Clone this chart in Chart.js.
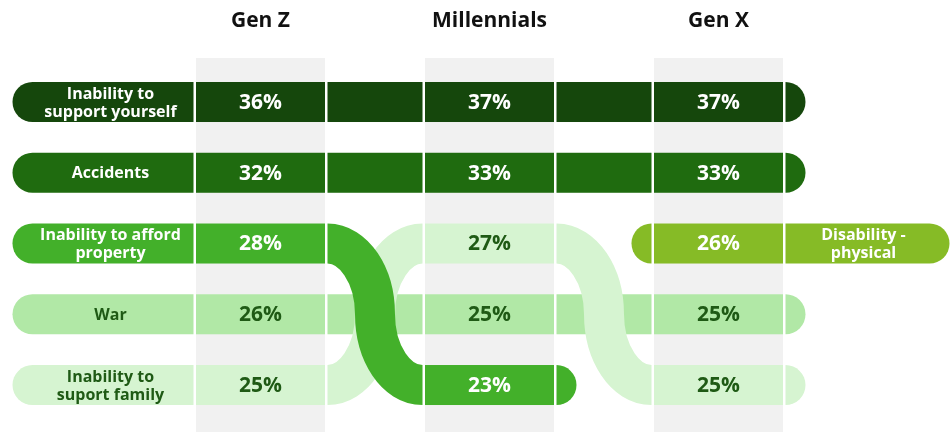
<!DOCTYPE html>
<html><head><meta charset="utf-8">
<script src="https://cdn.jsdelivr.net/npm/chart.js@4.4.1/dist/chart.umd.min.js"></script>
<style>html,body{margin:0;padding:0;background:#fff;}canvas{display:block}</style>
</head><body>
<canvas id="c" width="950" height="432"></canvas>
<script>
// ---- data ----
const generations = ['Gen Z', 'Millennials', 'Gen X'];
const concerns = ['Inability to support yourself', 'Accidents', 'Inability to afford property', 'War', 'Inability to suport family', 'Disability - physical'];
const concernLines = [['Inability to', 'support yourself'], ['Accidents'], ['Inability to afford', 'property'], ['War'], ['Inability to', 'suport family'], ['Disability -', 'physical']];
const genZValues = [36, 32, 28, 26, 25, null];
const millennialsValues = [37, 33, 23, 25, 27, null];
const genXValues = [37, 33, null, 25, 25, 26];

// ---- styles ----
const concernColors = ['#15470c', '#1f6b0f', '#43b02a', '#b1e8a6', '#d6f4d1', '#86bb26'];
const textColors = ['#ffffff', '#ffffff', '#ffffff', '#1f5a15', '#1f5a15', '#ffffff'];
const drawOrder = [0, 1, 3, 4, 5, 2];

const valuesByGen = [genZValues, millennialsValues, genXValues];
function ranksFor(vals) {
  const idx = vals.map((v, i) => i).filter(i => vals[i] != null);
  idx.sort((a, b) => (vals[b] - vals[a]) || (a - b));
  const r = vals.map(() => null);
  idx.forEach((i, k) => { r[i] = k + 1; });
  return r;
}
const ranksByGen = valuesByGen.map(ranksFor);

const HALF = 64.5, BAR = 40, GAP = 2.5, R = 20, K = 0.5523;
const FONT = '"Open Sans", "Noto Sans", sans-serif';

const bumpPlugin = {
  id: 'bump',
  beforeDatasetsDraw(chart) {
    const ctx = chart.ctx, xs = chart.scales.x, ys = chart.scales.y, area = chart.chartArea;
    ctx.save();
    // column backgrounds
    ctx.fillStyle = '#f1f1f1';
    generations.forEach((g, gi) => {
      const cx = xs.getPixelForValue(gi);
      ctx.fillRect(cx - HALF, area.top, HALF * 2, area.bottom - area.top);
    });
    // headers
    ctx.fillStyle = '#111';
    ctx.font = 'bold 21px ' + FONT;
    ctx.textAlign = 'center';
    ctx.textBaseline = 'middle';
    generations.forEach((g, gi) => ctx.fillText(g, xs.getPixelForValue(gi), 21));

    const drawLabel = (lines, x, y, color) => {
      ctx.fillStyle = color;
      ctx.font = 'bold 16px ' + FONT;
      ctx.textAlign = 'center';
      ctx.textBaseline = 'middle';
      const lh = 18;
      lines.forEach((t, k) => ctx.fillText(t, x, y + (k - (lines.length - 1) / 2) * lh + 1));
    };

    drawOrder.forEach(c => {
      const color = concernColors[c];
      const present = generations.map((g, gi) => gi).filter(gi => valuesByGen[gi][c] != null);
      const first = present[0], last = present[present.length - 1];
      const px = gi => xs.getPixelForValue(gi);
      const py = gi => ys.getPixelForValue(ranksByGen[gi][c]);
      ctx.fillStyle = color;
      // start
      const y0 = py(first), l0 = px(first) - HALF - GAP;
      if (first === 0) {
        ctx.beginPath();
        ctx.roundRect(l0 - 181, y0 - BAR / 2, 181, BAR, [R, 0, 0, R]);
        ctx.fill();
        drawLabel(concernLines[c], l0 - 83, y0, textColors[c]);
        ctx.fillStyle = color;
      } else {
        ctx.beginPath();
        ctx.moveTo(l0, y0 - BAR / 2);
        ctx.arc(l0, y0, R, -Math.PI / 2, Math.PI / 2, true);
        ctx.closePath();
        ctx.fill();
      }
      // cells and connectors
      present.forEach((gi, k) => {
        const cx = px(gi), cy = py(gi);
        ctx.fillStyle = color;
        ctx.fillRect(cx - HALF, cy - BAR / 2, HALF * 2, BAR);
        if (k < present.length - 1) {
          const gj = present[k + 1];
          const xa = cx + HALF + GAP, xb = px(gj) - HALF - GAP, yb = py(gj);
          if (Math.abs(yb - cy) < 0.5) {
            ctx.fillRect(xa, cy - BAR / 2, xb - xa, BAR);
          } else {
            const xm = (xa + xb) / 2, ym = (cy + yb) / 2;
            const rx = xm - xa, ry = ym - cy;
            ctx.strokeStyle = color;
            ctx.lineWidth = BAR;
            ctx.lineCap = 'butt';
            ctx.beginPath();
            ctx.moveTo(xa, cy);
            ctx.bezierCurveTo(xa + K * rx, cy, xm, ym - K * ry, xm, ym);
            ctx.bezierCurveTo(xm, ym + K * ry, xb - K * rx, yb, xb, yb);
            ctx.stroke();
          }
        }
      });
      // end
      const y1 = py(last), r1 = px(last) + HALF + GAP;
      ctx.fillStyle = color;
      if (first === last && last === generations.length - 1) {
        ctx.beginPath();
        ctx.roundRect(r1, y1 - BAR / 2, 164, BAR, [0, R, R, 0]);
        ctx.fill();
        drawLabel(concernLines[c], r1 + 78, y1, textColors[c]);
      } else {
        ctx.beginPath();
        ctx.moveTo(r1, y1 - BAR / 2);
        ctx.arc(r1, y1, R, -Math.PI / 2, Math.PI / 2, false);
        ctx.closePath();
        ctx.fill();
      }
      // values
      ctx.fillStyle = textColors[c];
      ctx.font = 'bold 21px ' + FONT;
      ctx.textAlign = 'center';
      ctx.textBaseline = 'middle';
      present.forEach(gi => ctx.fillText(valuesByGen[gi][c] + '%', px(gi), py(gi) + 1));
    });
    ctx.restore();
  }
};

new Chart(document.getElementById('c'), {
  type: 'line',
  data: {
    labels: generations,
    datasets: concerns.map((name, c) => ({
      label: name,
      data: generations.map((g, gi) => ({ x: g, y: ranksByGen[gi][c] })),
      showLine: false,
      pointRadius: 0,
      pointHoverRadius: 0
    }))
  },
  options: {
    responsive: false,
    animation: false,
    events: [],
    layout: { padding: { left: 146, right: 117, top: 58, bottom: 0 } },
    plugins: { legend: { display: false }, tooltip: { enabled: false } },
    scales: {
      x: { type: 'category', offset: true, display: false },
      y: { type: 'linear', reverse: true, min: 0.378, max: 5.664, display: false }
    }
  },
  plugins: [bumpPlugin]
});
</script>
</body></html>
